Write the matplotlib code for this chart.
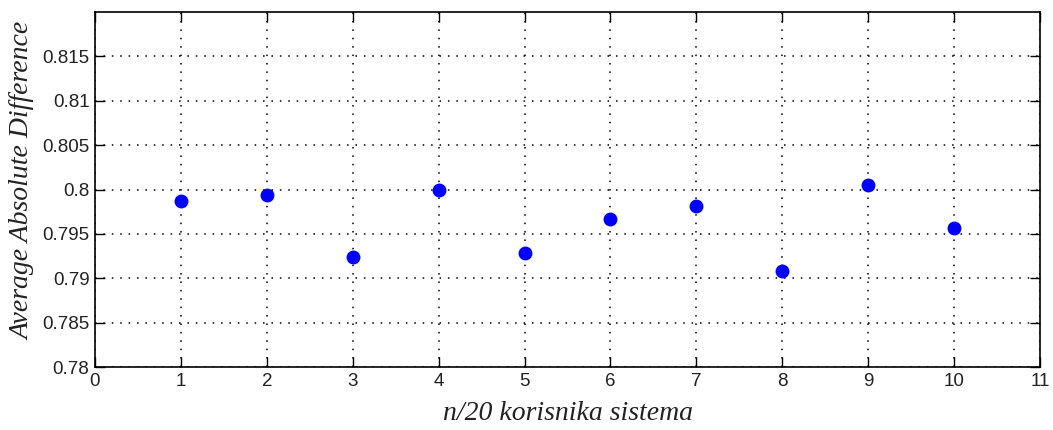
import numpy as np
import matplotlib
matplotlib.use("Agg")
import matplotlib.pyplot as plt

# data
n = [1, 2, 3, 4, 5, 6, 7, 8, 9, 10]
aad = [0.7987, 0.79936, 0.79245, 0.8000, 0.79283,
       0.79664, 0.79814, 0.79079, 0.80049, 0.79566]
xticks = list(range(0, 12))
yticks = [0.78, 0.785, 0.79, 0.795, 0.8, 0.805, 0.81, 0.815]
ylabels = ['0.78', '0.785', '0.79', '0.795', '0.8', '0.805', '0.81', '0.815']

fig = plt.figure(figsize=(10.53, 4.3), dpi=100)
ax = fig.add_axes([0.0902, 0.1465, 0.8975, 0.8255])

ax.plot(n, aad, 'o', color='#0000ff', markersize=9, linestyle='none')

ax.set_xlim(0, 11)
ax.set_ylim(0.78, 0.82)
ax.set_xticks(xticks)
ax.set_yticks(yticks)
ax.set_yticklabels(ylabels)
ax.tick_params(direction='in', length=7, width=1, top=True, right=True,
               labelsize=13.5, pad=4)
for lab in ax.get_xticklabels() + ax.get_yticklabels():
    lab.set_family('Liberation Sans')
    lab.set_color('#222222')

ax.grid(True, linestyle=(0, (1, 4.5)), color='black', linewidth=1.1)
for s in ax.spines.values():
    s.set_linewidth(1.2)

ax.set_xlabel('n/20 korisnika sistema', family='Liberation Serif',
              style='italic', fontsize=20, color='#222222', labelpad=8)
ax.set_ylabel('Average Absolute Difference', family='Liberation Serif',
              style='italic', fontsize=20, color='#222222')
ax.yaxis.set_label_coords(-0.063, 0.525)

plt.savefig('out.png', dpi=100)
